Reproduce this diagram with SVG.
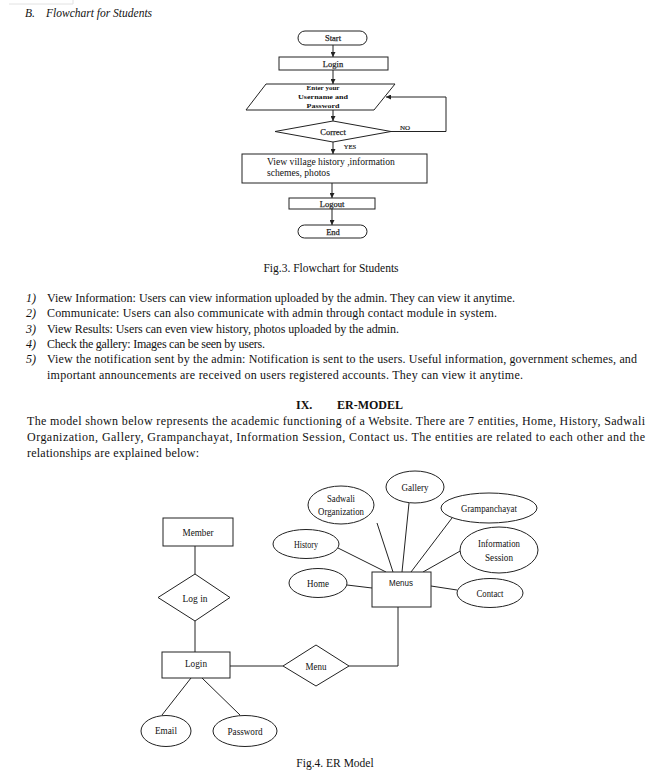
<svg xmlns="http://www.w3.org/2000/svg" width="668" height="776" viewBox="0 0 668 776">
<style>
.bg{fill:#ffffff}
.s{fill:#fff;stroke:#222;stroke-width:1}
.l{fill:none;stroke:#222;stroke-width:1}
.t{font-family:"Liberation Serif","Times New Roman",serif;fill:#111}
.fc{font-size:8.5px;text-anchor:middle;stroke:#333;stroke-width:0.25}
.er{font-size:11px;text-anchor:middle}
.body{font-size:12px}
.c{text-anchor:middle}
</style>
<defs>
<marker id="ah" viewBox="0 0 10 10" refX="10" refY="5" markerWidth="5" markerHeight="5" orient="auto">
<path d="M0,0 L10,5 L0,10 z" fill="#222"/>
</marker>
</defs>
<rect class="bg" x="0" y="0" width="668" height="776"/>
<path d="M9,4 H73 V0" fill="none" stroke="#e2e2e2" stroke-width="1"/>
<text class="t" x="25" y="17" font-size="11.5" font-style="italic">B.<tspan x="46">Flowchart for Students</tspan></text>

<g id="connectors">
<line class="l" x1="333" y1="45" x2="333" y2="57" marker-end="url(#ah)"/>
<line class="l" x1="333" y1="70" x2="333" y2="84" marker-end="url(#ah)"/>
<line class="l" x1="333" y1="110" x2="333" y2="121" marker-end="url(#ah)"/>
<polyline class="l" points="391,131.5 446,131.5 446,97 386,97" stroke="#888" marker-end="url(#ah)"/>
<line class="l" x1="333" y1="142" x2="333" y2="154" marker-end="url(#ah)"/>
<line class="l" x1="332" y1="183" x2="332" y2="198" marker-end="url(#ah)"/>
<line class="l" x1="332" y1="209" x2="332" y2="225" marker-end="url(#ah)"/>
<text class="t" x="405" y="129.5" font-size="7" text-anchor="middle" stroke="#333" stroke-width="0.2">NO</text>
<text class="t" x="350" y="149" font-size="6.5" text-anchor="middle" stroke="#333" stroke-width="0.2">YES</text>

<line class="l" x1="195" y1="546" x2="195" y2="574"/>
<line class="l" x1="195" y1="621" x2="195" y2="652"/>
<line class="l" x1="230" y1="666" x2="283" y2="666" stroke-width="1.6"/>
<polyline class="l" points="349,666 398,666 398,607"/>
<line class="l" x1="191" y1="678" x2="162" y2="715"/>
<line class="l" x1="202" y1="678" x2="240" y2="715"/>
<line class="l" x1="347" y1="585" x2="372" y2="588"/>
<line class="l" x1="338" y1="548" x2="386" y2="572"/>
<line class="l" x1="377" y1="523" x2="393" y2="572"/>
<line class="l" x1="409" y1="503" x2="402" y2="572"/>
<line class="l" x1="452" y1="518" x2="411" y2="572"/>
<line class="l" x1="462" y1="550" x2="423" y2="572"/>
<line class="l" x1="457" y1="590" x2="431" y2="586"/>
</g>

<g id="fc-start"><rect class="s" x="298" y="31" width="69" height="14" rx="7"/><text class="t fc" x="333" y="41">Start</text></g>
<g id="fc-login"><rect class="s" x="279" y="57" width="109" height="13" stroke-width="1.4"/><text class="t fc" x="333" y="66.5">Login</text></g>
<g id="fc-enter"><polygon class="s" points="266,84 395,84 374,110 246,110"/>
<text class="t" x="323" y="89.8" font-size="6.6" font-weight="bold" text-anchor="middle" textLength="33" lengthAdjust="spacingAndGlyphs">Enter your</text><text class="t" x="323" y="98.8" font-size="6.6" font-weight="bold" text-anchor="middle" textLength="50" lengthAdjust="spacingAndGlyphs">Username and</text><text class="t" x="323" y="107.8" font-size="6.6" font-weight="bold" text-anchor="middle" textLength="33" lengthAdjust="spacingAndGlyphs">Password</text></g>
<g id="fc-correct"><polygon class="s" points="333,121 391,131.5 333,142 275,131.5"/><text class="t fc" x="333" y="135">Correct</text></g>
<g id="fc-view"><rect class="s" x="242" y="154" width="185" height="29"/>
<text class="t" x="267" y="165" font-size="9.6">View village history ,information</text><text class="t" x="267" y="175.5" font-size="9.6">schemes, photos</text></g>
<g id="fc-logout"><rect class="s" x="289" y="198" width="86" height="11" stroke-width="1.4"/><text class="t fc" x="332" y="206.5" font-size="7.5">Logout</text></g>
<g id="fc-end"><rect class="s" x="298" y="225" width="69" height="13" rx="6.5"/><text class="t fc" x="333" y="234.5">End</text></g>

<text class="t c" x="331" y="272" font-size="11.5">Fig.3. Flowchart for Students</text>

<g class="t body" xml:space="preserve">
<text x="26" y="302" font-style="italic">1)</text><text x="47" y="302" textLength="468" lengthAdjust="spacing">View Information: Users  can  view  information  uploaded  by  the  admin.  They can view it anytime.</text>
<text x="26" y="317" font-style="italic">2)</text><text x="47" y="317" textLength="450" lengthAdjust="spacing">Communicate: Users   can   also   communicate   with   admin through contact module in system.</text>
<text x="26" y="333" font-style="italic">3)</text><text x="47" y="333" textLength="352" lengthAdjust="spacing">View Results: Users can even view history,  photos  uploaded  by the admin.</text>
<text x="26" y="348" font-style="italic">4)</text><text x="47" y="348" textLength="218" lengthAdjust="spacing">Check the gallery: Images can be seen by users.</text>
<text x="26" y="363" font-style="italic">5)</text><text x="47" y="363" textLength="590" lengthAdjust="spacing">View the notification sent by the admin:  Notification  is sent to  the   users. Useful  information, government schemes, and</text>
<text x="47" y="379" textLength="476" lengthAdjust="spacing">important   announcements   are   received   on  users  registered  accounts.  They  can  view  it  anytime.</text>
<text x="296" y="409" font-weight="bold">IX.</text><text x="337" y="409" font-weight="bold">ER-MODEL</text>
<text x="27" y="425" textLength="618" lengthAdjust="spacing">The   model   shown   below   represents   the academic functioning of a Website. There are 7 entities, Home, History, Sadwali</text>
<text x="27" y="441" textLength="618" lengthAdjust="spacing">Organization,  Gallery,  Grampanchayat,  Information  Session,  Contact  us.  The  entities  are  related  to  each  other  and  the</text>
<text x="27" y="457" textLength="172" lengthAdjust="spacing">relationships  are explained below:</text>
</g>

<g id="er-member"><rect class="s" x="163" y="518" width="70" height="28"/><text class="t er" x="198" y="535.5" textLength="31" lengthAdjust="spacingAndGlyphs">Member</text></g>
<g id="er-login-rel"><polygon class="s" points="195,574 230,597.5 195,621 158,597.5"/><text class="t er" x="195" y="601.5" textLength="25" lengthAdjust="spacingAndGlyphs">Log in</text></g>
<g id="er-login"><rect class="s" x="162" y="652" width="68" height="26"/><text class="t er" x="196" y="666.5" textLength="22" lengthAdjust="spacingAndGlyphs">Login</text></g>
<g id="er-menu-rel"><polygon class="s" points="283,666 316,645 349,666 316,686"/><text class="t er" x="316" y="670" textLength="21" lengthAdjust="spacingAndGlyphs">Menu</text></g>
<g id="er-menus"><rect class="s" x="372" y="572" width="59" height="35"/><text x="401" y="586" font-family="Liberation Sans, Arial, sans-serif" font-size="9" text-anchor="middle" fill="#111" textLength="24" lengthAdjust="spacingAndGlyphs">Menus</text></g>
<g id="er-email"><ellipse class="s" cx="166" cy="731" rx="25" ry="15.5"/><text class="t er" x="166" y="734" textLength="22" lengthAdjust="spacingAndGlyphs">Email</text></g>
<g id="er-password"><ellipse class="s" cx="245" cy="731" rx="32" ry="15.5"/><text class="t er" x="245" y="735" textLength="35" lengthAdjust="spacingAndGlyphs">Password</text></g>
<g id="er-home"><ellipse class="s" cx="318" cy="583" rx="29" ry="14.5"/><text class="t er" x="318" y="586.5" textLength="22" lengthAdjust="spacingAndGlyphs">Home</text></g>
<g id="er-history"><ellipse class="s" cx="306" cy="544" rx="33" ry="14.5"/><text class="t er" x="306" y="547.5" textLength="24" lengthAdjust="spacingAndGlyphs">History</text></g>
<g id="er-sadwali"><ellipse class="s" cx="341" cy="505" rx="33" ry="19"/><text class="t er" x="341" y="502" textLength="28" lengthAdjust="spacingAndGlyphs">Sadwali</text><text class="t er" x="341" y="515" textLength="46" lengthAdjust="spacingAndGlyphs">Organization</text></g>
<g id="er-gallery"><ellipse class="s" cx="415" cy="487" rx="29" ry="16"/><text class="t er" x="415" y="490.5" textLength="27" lengthAdjust="spacingAndGlyphs">Gallery</text></g>
<g id="er-gram"><ellipse class="s" cx="489" cy="508" rx="48" ry="15"/><text class="t er" x="489" y="511.5" textLength="56" lengthAdjust="spacingAndGlyphs">Grampanchayat</text></g>
<g id="er-info"><ellipse class="s" cx="499" cy="550" rx="39" ry="23"/><text class="t er" x="499" y="547" textLength="42" lengthAdjust="spacingAndGlyphs">Information</text><text class="t er" x="499" y="561" textLength="28" lengthAdjust="spacingAndGlyphs">Session</text></g>
<g id="er-contact"><ellipse class="s" cx="490" cy="593" rx="33" ry="14.5"/><text class="t er" x="490" y="596.5" textLength="27" lengthAdjust="spacingAndGlyphs">Contact</text></g>

<text class="t c" x="335" y="767" font-size="11.5">Fig.4. ER Model</text>
</svg>
